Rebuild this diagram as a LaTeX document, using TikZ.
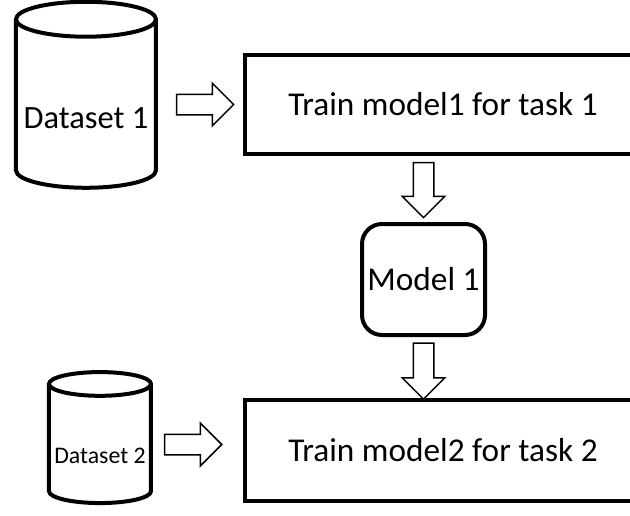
\documentclass[tikz,border=0pt]{standalone}
\usepackage{fontspec}
\setmainfont{Carlito}
\usetikzlibrary{shapes.geometric, shapes.arrows, positioning, calc}
\tikzset{
  datastore/.style={cylinder, shape border rotate=90, draw, line width=4pt, fill=white, align=center, inner sep=0pt, text depth=0pt},
  taskbox/.style={rectangle, draw, line width=4pt, inner sep=0pt, font=\fontsize{33.3}{38}\selectfont},
  modelbox/.style={rectangle, rounded corners=20pt, draw, line width=4pt, minimum width=123pt, minimum height=111pt, inner sep=0pt, font=\fontsize{33.3}{38}\selectfont},
  blockarrow/.style={single arrow, draw, line width=1.5pt, minimum width=42pt, single arrow head extend=11pt, single arrow head indent=0pt, inner sep=9.5pt},
}
\begin{document}
\begin{tikzpicture}[x=1pt, y=-1pt]
\useasboundingbox (0,0) rectangle (630,515);
\node (train1) [taskbox, minimum width=396pt, minimum height=99pt] at (443,104.5) {Train model1 for task 1};
\node (model1) [modelbox, below=66pt of train1, xshift=-19.5pt] {Model 1};
\node (train2) [taskbox, minimum width=396pt, minimum height=101pt, below=61pt of model1, xshift=19.5pt] {Train model2 for task 2};
\node (data1) [datastore, aspect=0.28, minimum width=140pt, minimum height=186pt, left=85pt of train1, text height=47pt, font=\fontsize{32.5}{38}\selectfont] {Dataset 1};
\node (data2) [datastore, aspect=0.26, minimum width=102pt, minimum height=131pt, left=90pt of train2, yshift=6pt, text height=37pt, font=\fontsize{23.8}{28}\selectfont] {Dataset 2};
\path (data1.east) -- node[blockarrow, pos=0.494, minimum height=57pt] {} (train1.west);
\path (data2.east) -- node[blockarrow, pos=0.39, minimum height=57pt] {} (data2.east -| train2.west);
\path (model1.north |- train1.south) -- node[blockarrow, pos=0.44, shape border rotate=270, minimum height=55pt] {} (model1.north);
\path (model1.south) -- node[blockarrow, pos=0.475, shape border rotate=270, minimum height=56pt] {} (model1.south |- train2.north);
\end{tikzpicture}
\end{document}
